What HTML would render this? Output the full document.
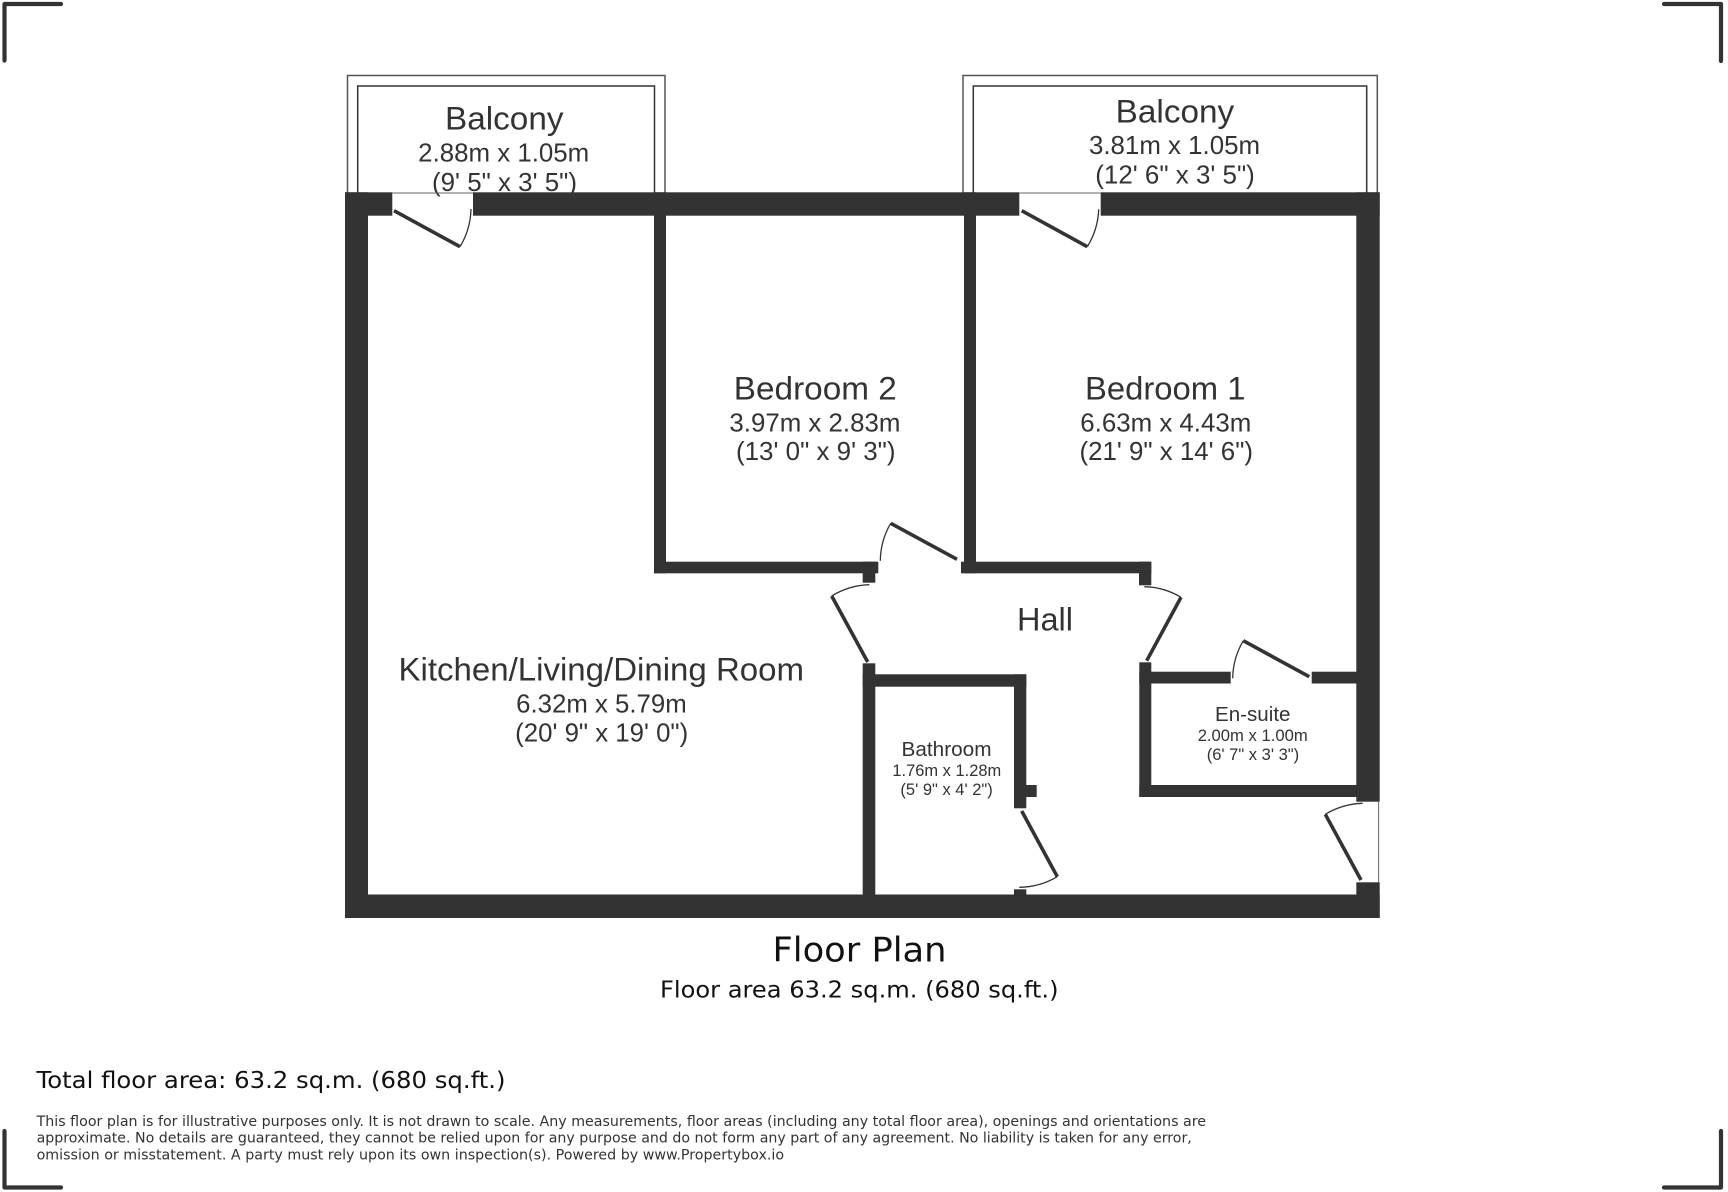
<!DOCTYPE html>
<html>
<head>
<meta charset="utf-8">
<style>
html,body{margin:0;padding:0;background:#fff;width:1728px;height:1192px;overflow:hidden}
svg{display:block}
.a{font-family:"Liberation Sans",Arial,sans-serif;fill:#333}
.d{font-family:"DejaVu Sans",sans-serif;fill:#111}
</style>
</head>
<body>
<svg width="1728" height="1192" viewBox="0 0 1728 1192" xmlns="http://www.w3.org/2000/svg">
<rect width="1728" height="1192" fill="#fff"/>

<!-- corners -->
<g fill="none" stroke="#333" stroke-width="4.2" stroke-linecap="round" stroke-linejoin="round">
<path d="M4.5 60.5V4H61"/>
<path d="M1664 4H1721V61"/>
<path d="M4.5 1131V1187.5H61"/>
<path d="M1664 1187.5H1721V1131"/>
</g>

<!-- balconies -->
<g fill="none" stroke-width="1.5">
<path d="M347.5 193V75.5H665V193" stroke="#555"/>
<path d="M357.7 193V86H654.5V193" stroke="#333"/>
<path d="M963 193V75.5H1377.3V193" stroke="#555"/>
<path d="M973.3 193V86H1366.7V193" stroke="#333"/>
</g>

<!-- labels under walls -->
<g class="a">
<text x="445" y="129.3" font-size="32" textLength="118.5" lengthAdjust="spacingAndGlyphs">Balcony</text>
<text x="418.2" y="161.7" font-size="25.6" textLength="171" lengthAdjust="spacingAndGlyphs">2.88m x 1.05m</text>
<text x="432" y="191" font-size="25.6" textLength="145" lengthAdjust="spacingAndGlyphs">(9' 5" x 3' 5")</text>
<text x="1115.7" y="122.7" font-size="32" textLength="118.5" lengthAdjust="spacingAndGlyphs">Balcony</text>
<text x="1089" y="154" font-size="25.6" textLength="171" lengthAdjust="spacingAndGlyphs">3.81m x 1.05m</text>
<text x="1095.3" y="183.3" font-size="25.6" textLength="159.5" lengthAdjust="spacingAndGlyphs">(12' 6" x 3' 5")</text>
</g>

<!-- walls -->
<g fill="#333">
<rect x="345" y="192.3" width="47.3" height="23.4"/>
<rect x="473" y="192.3" width="546.3" height="23.4"/>
<rect x="1100.7" y="192.3" width="279" height="23.4"/>
<rect x="345" y="192.3" width="23" height="725.7"/>
<rect x="345" y="894.5" width="1034.7" height="23.5"/>
<rect x="1356.3" y="192.3" width="23.4" height="609.4"/>
<rect x="1356.3" y="882.3" width="23.4" height="35.7"/>
<!-- bedroom 2 -->
<rect x="654" y="192.3" width="12" height="381"/>
<rect x="654" y="561.7" width="224.3" height="11.6"/>
<rect x="862.7" y="561.7" width="12.6" height="21"/>
<!-- bedroom 1 partition -->
<rect x="964" y="192.3" width="12" height="381"/>
<rect x="961" y="561.7" width="190.3" height="11.6"/>
<rect x="1139" y="561.7" width="12.3" height="23.6"/>
<!-- bathroom -->
<rect x="862.7" y="663.3" width="12.6" height="232"/>
<rect x="862.7" y="674.3" width="163.6" height="12.4"/>
<rect x="1014" y="674.3" width="12.3" height="134"/>
<rect x="1026" y="785" width="10.7" height="12"/>
<rect x="1014" y="889.3" width="12.3" height="6"/>
<!-- en-suite -->
<rect x="1139.3" y="662.3" width="12" height="134.7"/>
<rect x="1139.3" y="671.7" width="91.4" height="11.8"/>
<rect x="1311.7" y="671.7" width="45" height="11.8"/>
<rect x="1139.3" y="785" width="217.4" height="12"/>
</g>

<!-- thin jamb lines -->
<g stroke="#666" stroke-width="1" fill="none">
<path d="M392.3 193H473"/>
<path d="M1019.3 193H1100.7"/>
<path d="M1378.6 801.7V882.3"/>
</g>

<!-- door leaves -->
<g stroke="#333" stroke-width="3.6" fill="none">
<path d="M394 210.7L460 246.7"/>
<path d="M1021.7 210.7L1087.3 246.7"/>
<path d="M957 559.3L890.7 523.3"/>
<path d="M1146.7 660.7L1181 597.3"/>
<path d="M867.7 662L831.7 596"/>
<path d="M1309.3 676.7L1243.3 640.7"/>
<path d="M1361 880L1325.3 814.3"/>
<path d="M1021.7 811L1057.3 876.7"/>
</g>
<!-- door arcs -->
<g stroke="#333" stroke-width="1.3" fill="none">
<path d="M460 246.7A76 76 0 0 0 471 209"/>
<path d="M1087.3 246.7A76 76 0 0 0 1098.7 209.3"/>
<path d="M890.7 523.3A76 76 0 0 0 880.3 560.7"/>
<path d="M1181 597.3A74 74 0 0 0 1144.3 586.7"/>
<path d="M831.7 596A76 76 0 0 1 869.3 584.7"/>
<path d="M1243.3 640.7A76 76 0 0 0 1232.7 678.3"/>
<path d="M1325.3 814.3A76 76 0 0 1 1362.7 803.3"/>
<path d="M1057.3 876.7A76 76 0 0 1 1019.3 887.3"/>
</g>

<!-- room labels -->
<g class="a">
<text x="733.8" y="399.3" font-size="32" textLength="163" lengthAdjust="spacingAndGlyphs">Bedroom 2</text>
<text x="729.4" y="431.7" font-size="25.6" textLength="171" lengthAdjust="spacingAndGlyphs">3.97m x 2.83m</text>
<text x="736" y="460" font-size="25.6" textLength="159.5" lengthAdjust="spacingAndGlyphs">(13' 0" x 9' 3")</text>

<text x="1085" y="399.3" font-size="32" textLength="160.5" lengthAdjust="spacingAndGlyphs">Bedroom 1</text>
<text x="1080.3" y="431.7" font-size="25.6" textLength="171" lengthAdjust="spacingAndGlyphs">6.63m x 4.43m</text>
<text x="1079.5" y="460" font-size="25.6" textLength="173.5" lengthAdjust="spacingAndGlyphs">(21' 9" x 14' 6")</text>

<text x="398.5" y="680.7" font-size="32" textLength="405.5" lengthAdjust="spacingAndGlyphs">Kitchen/Living/Dining Room</text>
<text x="516.2" y="712.7" font-size="25.6" textLength="170.5" lengthAdjust="spacingAndGlyphs">6.32m x 5.79m</text>
<text x="515.2" y="741.7" font-size="25.6" textLength="173" lengthAdjust="spacingAndGlyphs">(20' 9" x 19' 0")</text>

<text x="1017" y="630.7" font-size="32" textLength="56" lengthAdjust="spacingAndGlyphs">Hall</text>

<text x="1215" y="721" font-size="20.5" textLength="75.5" lengthAdjust="spacingAndGlyphs">En-suite</text>
<text x="1197.7" y="741" font-size="16.5" textLength="110" lengthAdjust="spacingAndGlyphs">2.00m x 1.00m</text>
<text x="1206.7" y="760" font-size="16.5" textLength="92.5" lengthAdjust="spacingAndGlyphs">(6' 7" x 3' 3")</text>

<text x="901.5" y="756" font-size="20.5" textLength="90" lengthAdjust="spacingAndGlyphs">Bathroom</text>
<text x="892.4" y="776" font-size="16.5" textLength="108.8" lengthAdjust="spacingAndGlyphs">1.76m x 1.28m</text>
<text x="900.4" y="795" font-size="16.5" textLength="92.4" lengthAdjust="spacingAndGlyphs">(5' 9" x 4' 2")</text>
</g>

<!-- titles and footer -->
<g class="d">
<text x="772.5" y="961.7" font-size="34" textLength="174" lengthAdjust="spacingAndGlyphs">Floor Plan</text>
<text x="660" y="997.7" font-size="23" textLength="398.5" lengthAdjust="spacingAndGlyphs">Floor area 63.2 sq.m. (680 sq.ft.)</text>
<text x="36.5" y="1088" font-size="23" textLength="469" lengthAdjust="spacingAndGlyphs">Total floor area: 63.2 sq.m. (680 sq.ft.)</text>
<g style="fill:#333">
<text x="36.6" y="1126" font-size="14.5" textLength="1169.4" lengthAdjust="spacingAndGlyphs">This floor plan is for illustrative purposes only. It is not drawn to scale. Any measurements, floor areas (including any total floor area), openings and orientations are</text>
<text x="36.6" y="1142.7" font-size="14.5" textLength="1155.2" lengthAdjust="spacingAndGlyphs">approximate. No details are guaranteed, they cannot be relied upon for any purpose and do not form any part of any agreement. No liability is taken for any error,</text>
<text x="36.6" y="1159.3" font-size="14.5" textLength="747.5" lengthAdjust="spacingAndGlyphs">omission or misstatement. A party must rely upon its own inspection(s). Powered by www.Propertybox.io</text>
</g>
</g>
</svg>
</body>
</html>
